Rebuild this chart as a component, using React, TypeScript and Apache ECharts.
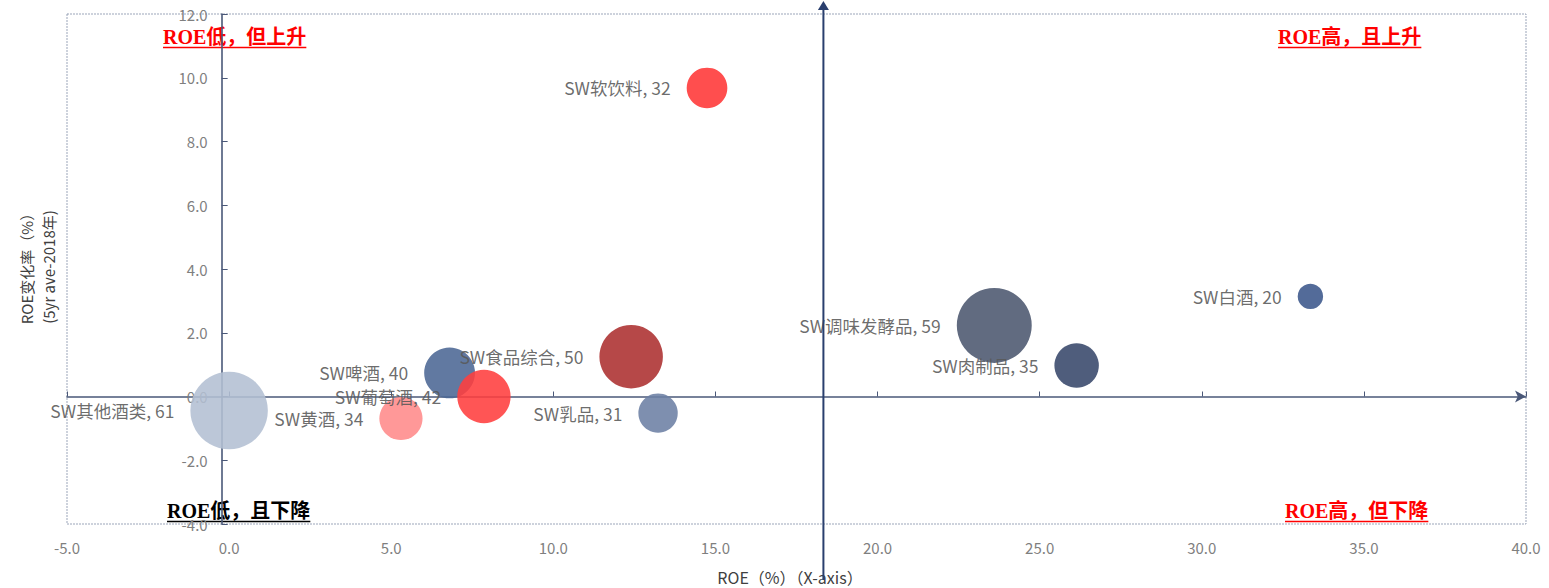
import React, { useEffect, useRef } from "react";
import * as echarts from "echarts";

// Sub-sector bubbles: ROE (x), ROE change (y), bubble size (shown in label)
const sectorNames = [
  "SW其他酒类",
  "SW黄酒",
  "SW啤酒",
  "SW葡萄酒",
  "SW食品综合",
  "SW乳品",
  "SW软饮料",
  "SW调味发酵品",
  "SW肉制品",
  "SW白酒",
];
const roeValues = [0.0, 5.3, 6.8, 7.86, 12.4, 13.23, 14.74, 23.6, 26.14, 33.35];
const roeChangeValues = [-0.44, -0.69, 0.74, 0.0, 1.25, -0.52, 9.68, 2.23, 0.97, 3.14];
const bubbleSizes = [61, 34, 40, 42, 50, 31, 32, 59, 35, 20];
const bubbleColors = [
  "#b3bfd3",
  "#ff8a8a",
  "#4b6794",
  "#ff3d3d",
  "#ac2f2f",
  "#6c80a4",
  "#ff3535",
  "#4b576e",
  "#37476a",
  "#3b578b",
];

// Axis ranges
const xMin = -5;
const xMax = 40;
const xStep = 5;
const yMin = -4;
const yMax = 12;
const yStep = 2;
const yAxisCrossX = -0.23; // ROE value where the vertical value axis sits
const avgRoe = 18.33; // dividing line between low / high ROE

// Quadrant captions
const quadrantTexts = ["ROE低，但上升", "ROE高，且上升", "ROE低，且下降", "ROE高，但下降"];
const quadrantColors = ["#ff0000", "#ff0000", "#000000", "#ff0000"];

const yAxisTitle = ["ROE变化率（%）", "(5yr ave-2018年)"];
const xAxisTitle = "ROE（%）（X-axis）";

const W = 1549;
const H = 588;
const GRID = { left: 67, top: 14, right: 23, bottom: 64 };
const AXIS_COLOR = "#4a5878";
const LABEL_FONT = '"Noto Sans CJK SC", "Noto Sans", sans-serif';
const CAPTION_FONT = '"Liberation Serif", "Noto Sans CJK SC", serif';

function measure(text: string, font: string): number {
  const c = document.createElement("canvas").getContext("2d");
  if (!c) return text.length * 20;
  c.font = font;
  return c.measureText(text).width;
}

export default function App() {
  const ref = useRef<HTMLDivElement>(null);

  useEffect(() => {
    if (!ref.current) return;
    const chart = echarts.init(ref.current, undefined, { renderer: "svg" });

    const gridW = W - GRID.left - GRID.right;
    const pxPerX = gridW / (xMax - xMin);
    const yAxisOffset = -(yAxisCrossX - xMin) * pxPerX;

    const data = sectorNames.map((name, i) => ({
      name,
      value: [roeValues[i], roeChangeValues[i], bubbleSizes[i]],
      itemStyle: { color: bubbleColors[i], opacity: 0.88 },
    }));

    chart.setOption({
      animation: false,
      backgroundColor: "#ffffff",
      grid: { ...GRID, containLabel: false },
      xAxis: [
        {
          type: "value",
          min: xMin,
          max: xMax,
          interval: xStep,
          position: "bottom",
          axisLine: { show: false, onZero: false },
          axisTick: { show: false },
          splitLine: { show: false },
          axisLabel: {
            color: "#7f7f7f",
            fontSize: 15,
            fontFamily: LABEL_FONT,
            margin: 16,
            formatter: (v: number) => v.toFixed(1),
          },
        },
        {
          type: "value",
          min: xMin,
          max: xMax,
          interval: xStep,
          position: "bottom",
          axisLine: {
            show: true,
            onZero: true,
            symbol: ["none", "arrow"],
            symbolSize: [9, 11],
            lineStyle: { color: AXIS_COLOR, width: 1.6 },
          },
          axisTick: { show: true, inside: true, length: 5, lineStyle: { color: AXIS_COLOR } },
          axisLabel: { show: false },
          splitLine: { show: false },
        },
      ],
      yAxis: {
        type: "value",
        min: yMin,
        max: yMax,
        interval: yStep,
        position: "left",
        offset: yAxisOffset,
        axisLine: { show: true, onZero: false, lineStyle: { color: AXIS_COLOR, width: 1.6 } },
        axisTick: { show: true, inside: true, length: 6, lineStyle: { color: AXIS_COLOR } },
        splitLine: { show: false },
        axisLabel: {
          color: "#7f7f7f",
          fontSize: 15,
          fontFamily: LABEL_FONT,
          margin: 14,
          formatter: (v: number) => v.toFixed(1),
        },
      },
      series: [
        {
          type: "scatter",
          xAxisIndex: 0,
          yAxisIndex: 0,
          data,
          symbolSize: (v: number[]) => v[2] * 1.27,
          label: {
            show: true,
            position: "left",
            distance: 16,
            color: "#595959",
            fontSize: 17.5,
            fontFamily: LABEL_FONT,
            formatter: (p: any) => `${p.name}, ${p.value[2]}`,
          },
          labelLayout: { hideOverlap: false },
          emphasis: { disabled: true },
        },
      ],
    });

    // Annotations positioned from the data scales
    const toPx = (x: number, y: number) =>
      chart.convertToPixel({ seriesIndex: 0 }, [x, y]) as number[];
    const [gx0, gyTop] = toPx(xMin, yMax);
    const [gx1, gyBot] = toPx(xMax, yMin);
    const [avgX] = toPx(avgRoe, 0);

    const capFont = `bold 20px ${CAPTION_FONT}`;
    const capPos = [
      [gx0 + 96, gyTop + 23],
      [gx1 - 248, gyTop + 23],
      [gx0 + 100, gyBot - 13],
      [gx1 - 241, gyBot - 13],
    ];
    const captions = quadrantTexts.map((t, i) => {
      const w = measure(t, capFont);
      const [cx, cy] = capPos[i];
      return {
        type: "group",
        z: 20,
        children: [
          {
            type: "text",
            x: cx,
            y: cy,
            style: {
              text: t,
              fill: quadrantColors[i],
              font: capFont,
              align: "left",
              verticalAlign: "middle",
            },
          },
          {
            type: "line",
            shape: { x1: cx, y1: cy + 10.5, x2: cx + w, y2: cy + 10.5 },
            style: { stroke: quadrantColors[i], lineWidth: 1.3 },
          },
        ],
      };
    });

    chart.setOption({
      graphic: [
        {
          type: "rect",
          z: -1,
          shape: { x: gx0, y: gyTop, width: gx1 - gx0, height: gyBot - gyTop },
          style: { fill: "none", stroke: "#9ba5b9", lineWidth: 1, lineDash: [2, 1] },
        },
        {
          type: "line",
          z: 15,
          shape: { x1: avgX, y1: gyBot + 56, x2: avgX, y2: gyTop - 6 },
          style: { stroke: "#2a3f6e", lineWidth: 2 },
        },
        {
          type: "polygon",
          z: 15,
          shape: {
            points: [
              [avgX - 5.5, gyTop - 4],
              [avgX + 5.5, gyTop - 4],
              [avgX, gyTop - 13],
            ],
          },
          style: { fill: "#2a3f6e" },
        },
        {
          type: "text",
          x: 26,
          y: 265,
          rotation: Math.PI / 2,
          style: {
            text: yAxisTitle[0],
            fill: "#404040",
            font: `15px ${LABEL_FONT}`,
            align: "center",
            verticalAlign: "middle",
          },
        },
        {
          type: "text",
          x: 48,
          y: 267,
          rotation: Math.PI / 2,
          style: {
            text: yAxisTitle[1],
            fill: "#404040",
            font: `15px ${LABEL_FONT}`,
            align: "center",
            verticalAlign: "middle",
          },
        },
        {
          type: "text",
          x: 790,
          y: 577,
          style: {
            text: xAxisTitle,
            fill: "#404040",
            font: `16px ${LABEL_FONT}`,
            align: "center",
            verticalAlign: "middle",
          },
        },
        ...captions,
      ],
    });

    return () => chart.dispose();
  }, []);

  return (
    <div
      ref={ref}
      style={{ position: "fixed", left: 0, top: 0, width: W, height: H, background: "#fff" }}
    />
  );
}
